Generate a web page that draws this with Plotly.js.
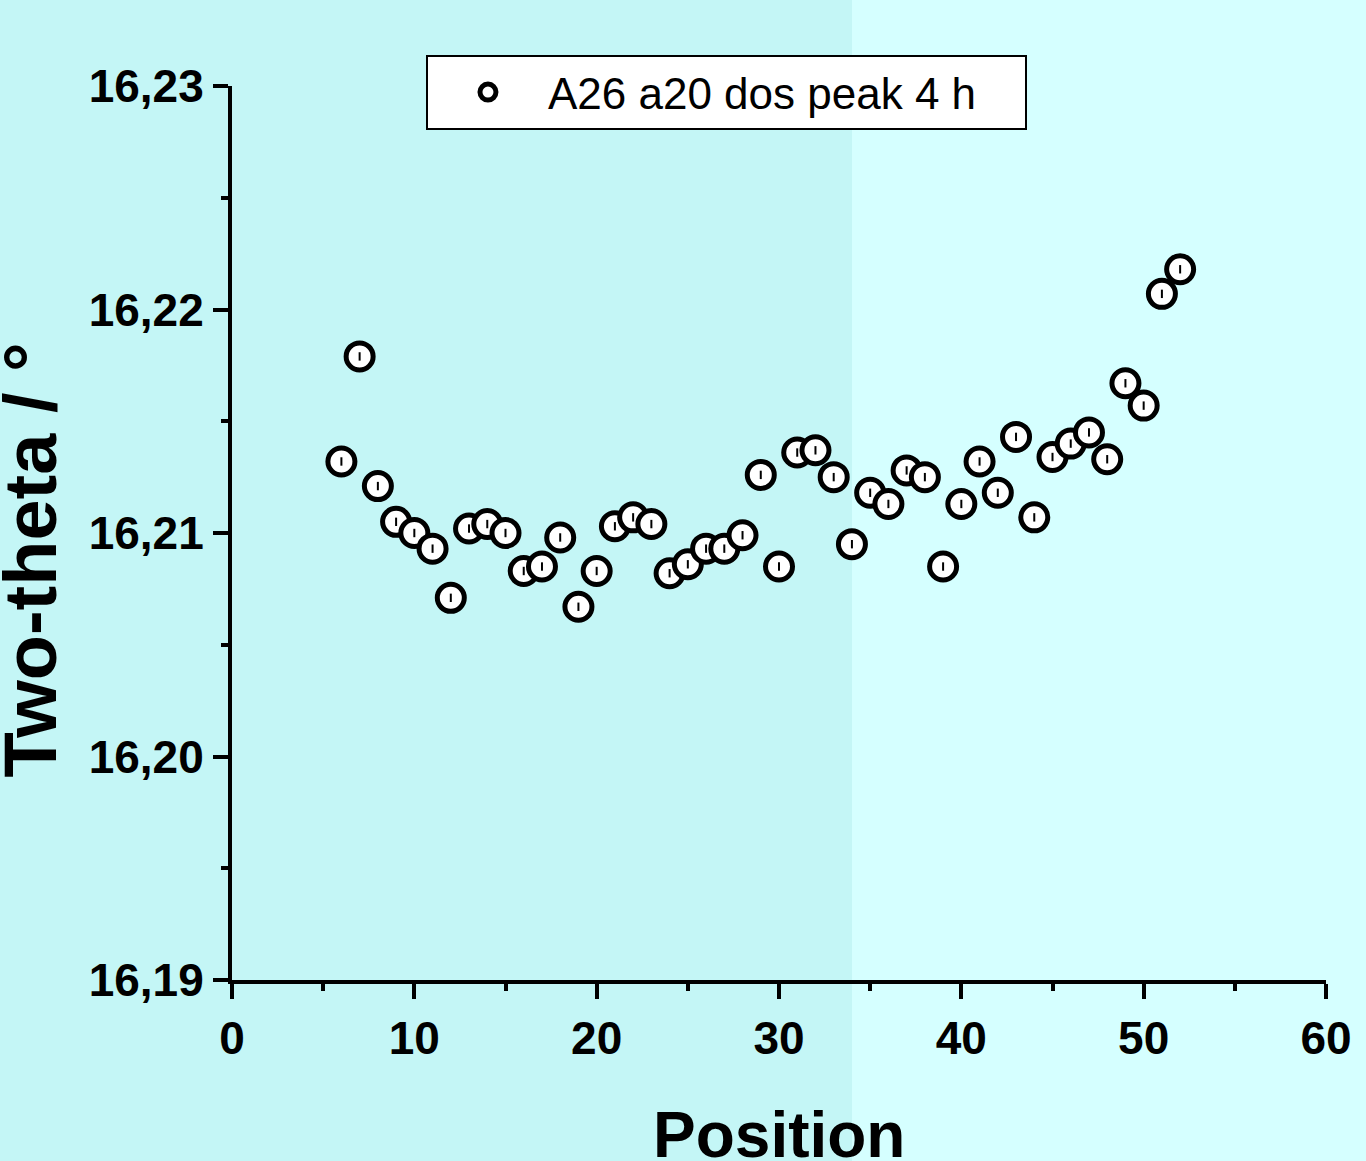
<!DOCTYPE html>
<html><head><meta charset="utf-8">
<script src="https://cdn.plot.ly/plotly-3.0.1.min.js"></script>
<style>
html,body{margin:0;padding:0;}
body{width:1366px;height:1161px;overflow:hidden;background:linear-gradient(to right,#c4f6f6 0px,#c4f6f6 852px,#d5ffff 852px,#d5ffff 1366px);}
#chart{width:1366px;height:1161px;}
</style></head>
<body><div id="chart"></div>
<script>
var positions = [6,7,8,9,10,11,12,13,14,15,16,17,18,19,20,21,22,23,24,25,26,27,28,29,30,31,32,33,34,35,36,37,38,39,40,41,42,43,44,45,46,47,48,49,50,51,52];
var twoTheta = [16.2132,16.2179,16.2121,16.2105,16.2100,16.2093,16.2071,16.2102,16.2104,16.2100,16.2083,16.2085,16.2098,16.2067,16.2083,16.2103,16.2107,16.2104,16.2082,16.2086,16.2093,16.2093,16.2099,16.2126,16.2085,16.2136,16.2137,16.2125,16.2095,16.2118,16.2113,16.2128,16.2125,16.2085,16.2113,16.2132,16.2118,16.2143,16.2107,16.2134,16.2140,16.2145,16.2133,16.2167,16.2157,16.2207,16.2218];
var seriesName = "A26 a20 dos peak 4 h";
var xTitle = "Position";
var yTitle = "Two-theta / °";

var fam = "Liberation Sans, Arial, sans-serif";
var traces = [
  {x: positions, y: twoTheta, type: "scatter", mode: "markers", name: seriesName,
   marker: {symbol: "circle", size: 27, color: "#ffffff", line: {color: "#000000", width: 5}}},
  {x: positions, y: twoTheta, type: "scatter", mode: "markers", showlegend: false, hoverinfo: "skip",
   marker: {symbol: "line-ns", size: 6, color: "#000000", line: {color: "#000000", width: 2}}}
];
var layout = {
  width: 1366, height: 1161,
  paper_bgcolor: "rgba(0,0,0,0)", plot_bgcolor: "rgba(0,0,0,0)",
  margin: {l: 232, r: 40, t: 86, b: 181},
  separators: ",.",
  showlegend: true,
  legend: {x: 0.1773, y: 1.0347, xanchor: "left", yanchor: "top",
    orientation: "h", entrywidth: 472, entrywidthmode: "pixels",
    bgcolor: "#ffffff", bordercolor: "#000000", borderwidth: 2,
    itemwidth: 110,
    font: {family: fam, size: 44, color: "#000000"}},
  xaxis: {range: [0, 60], dtick: 10, tick0: 0, showgrid: false, zeroline: false,
    showline: true, linecolor: "#000000", linewidth: 4,
    ticks: "outside", ticklen: 15, tickwidth: 4, tickcolor: "#000000",
    minor: {dtick: 5, ticks: "outside", ticklen: 7, tickwidth: 4, tickcolor: "#000000"},
    tickfont: {family: fam, size: 46, color: "#000000", weight: "bold"}},
  yaxis: {range: [16.19, 16.23], dtick: 0.01, tick0: 16.19, tickformat: ".2f", showgrid: false, zeroline: false,
    showline: true, linecolor: "#000000", linewidth: 4,
    ticks: "outside", ticklen: 15, tickwidth: 4, tickcolor: "#000000",
    minor: {dtick: 0.005, ticks: "outside", ticklen: 7, tickwidth: 4, tickcolor: "#000000"},
    tickfont: {family: fam, size: 46, color: "#000000", weight: "bold"}},
  annotations: [
    {text: yTitle, xref: "paper", yref: "paper", x: -0.184, y: 0.47, textangle: -90,
     showarrow: false, xanchor: "center", yanchor: "middle",
     font: {family: fam, size: 74, color: "#000000", weight: "bold"}},
    {text: xTitle, xref: "paper", yref: "paper", x: 0.5, y: -0.131, 
     showarrow: false, xanchor: "center", yanchor: "top",
     font: {family: fam, size: 64, color: "#000000", weight: "bold"}}
  ]
};
Plotly.newPlot("chart", traces, layout, {displayModeBar: false, staticPlot: true});
</script></body></html>
